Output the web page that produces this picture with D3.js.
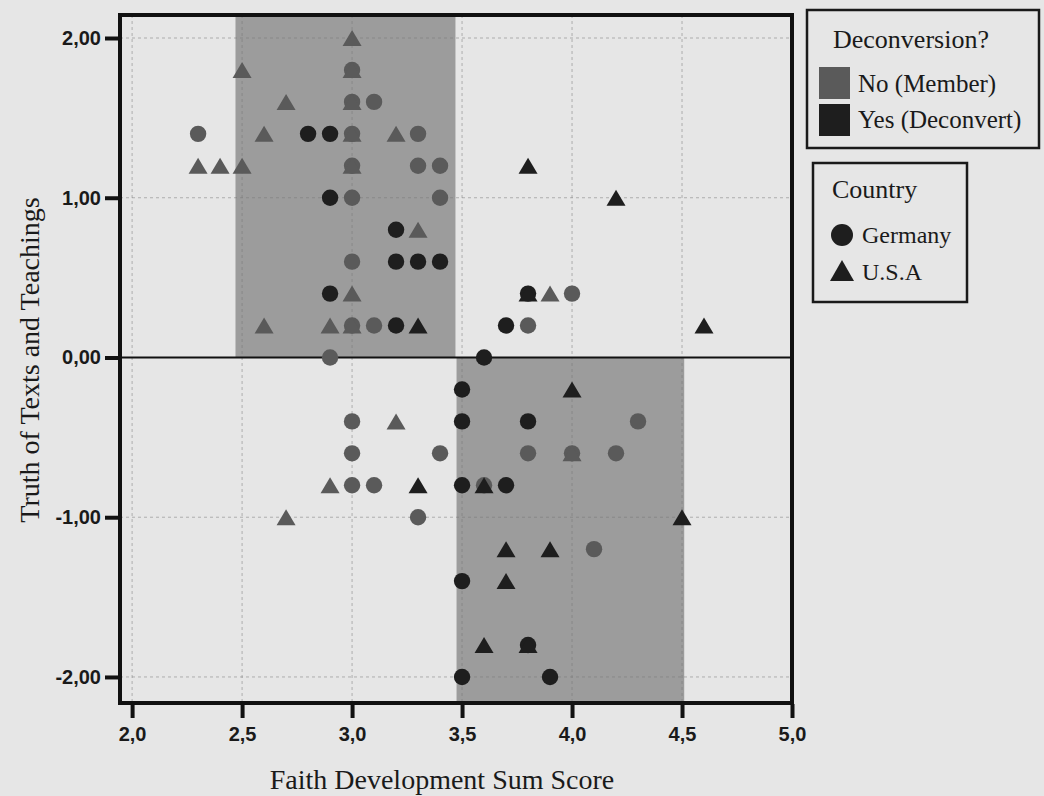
<!DOCTYPE html>
<html>
<head>
<meta charset="utf-8">
<script src="https://cdn.jsdelivr.net/npm/d3@7"></script>
<style>
  body { margin: 0; background: #e6e6e6; }
</style>
</head>
<body>
<div id="chart"></div>
<script>
// points: [faith development sum score, truth of texts and teachings]
const germanyMember = [
  [3.0, 1.8], [3.0, 1.6], [3.1, 1.6], [2.3, 1.4], [3.0, 1.4], [3.3, 1.4],
  [3.0, 1.2], [3.3, 1.2], [3.4, 1.2], [3.0, 1.0], [3.4, 1.0], [3.0, 0.6],
  [3.0, 0.2], [3.1, 0.2], [2.9, 0.0], [4.0, 0.4], [3.8, 0.2], [3.0, -0.4],
  [4.3, -0.4], [3.0, -0.6], [3.4, -0.6], [3.8, -0.6], [4.0, -0.6], [4.2, -0.6],
  [3.0, -0.8], [3.1, -0.8], [3.6, -0.8], [3.3, -1.0], [4.1, -1.2]
];
const germanyDeconvert = [
  [2.8, 1.4], [2.9, 1.4], [2.9, 1.0], [3.2, 0.8], [3.2, 0.6], [3.3, 0.6],
  [3.4, 0.6], [2.9, 0.4], [3.2, 0.2], [3.8, 0.4], [3.7, 0.2], [3.6, 0.0],
  [3.5, -0.2], [3.5, -0.4], [3.8, -0.4], [3.5, -0.8], [3.7, -0.8], [3.5, -1.4],
  [3.8, -1.8], [3.5, -2.0], [3.9, -2.0]
];
const usaMember = [
  [3.0, 2.0], [2.5, 1.8], [3.0, 1.8], [2.7, 1.6], [3.0, 1.6], [2.6, 1.4],
  [3.0, 1.4], [3.2, 1.4], [2.3, 1.2], [2.4, 1.2], [2.5, 1.2], [3.0, 1.2],
  [3.3, 0.8], [3.0, 0.4], [2.6, 0.2], [2.9, 0.2], [3.0, 0.2], [3.9, 0.4],
  [3.2, -0.4], [4.0, -0.6], [2.9, -0.8], [2.7, -1.0]
];
const usaDeconvert = [
  [3.8, 1.2], [4.2, 1.0], [3.3, 0.2], [3.8, 0.4], [4.6, 0.2], [4.0, -0.2],
  [3.3, -0.8], [3.6, -0.8], [4.5, -1.0], [3.7, -1.2], [3.9, -1.2], [3.7, -1.4],
  [3.6, -1.8], [3.8, -1.8]
];

// shaded bands: [x from, x to, y from, y to]
const upperBand = [2.47, 3.47, 0, 2.144];
const lowerBand = [3.475, 4.51, -2.163, 0];

const xTicks = [2.0, 2.5, 3.0, 3.5, 4.0, 4.5, 5.0];
const yTicks = [2, 1, 0, -1, -2];
const deconversionLabels = ["No (Member)", "Yes (Deconvert)"];
const countryLabels = ["Germany", "U.S.A"];

const w = 1044, h = 796;
const plotLeft = 120, plotRight = 792, plotTop = 15, plotBottom = 703;

const memberGrey = "#5a5a5a";
const deconvertGrey = "#1e1e1e";
const bandGrey = "#9c9c9c";

const svg = d3.select("#chart").append("svg")
  .attr("width", w)
  .attr("height", h);

svg.append("rect")
  .attr("width", w).attr("height", h)
  .attr("fill", "#e6e6e6");

const x = d3.scaleLinear().domain([1.945, 5.0]).range([plotLeft, plotRight]);
const y = d3.scaleLinear().domain([-2.163, 2.144]).range([plotBottom, plotTop]);

const locale = d3.formatLocale({ decimal: ",", thousands: ".", grouping: [3], currency: ["", ""], minus: "-" });

///////////// bands /////////////
svg.selectAll("rect.band")
  .data([upperBand, lowerBand])
  .enter().append("rect")
  .attr("class", "band")
  .attr("x", d => x(d[0]))
  .attr("width", d => x(d[1]) - x(d[0]))
  .attr("y", d => y(d[3]))
  .attr("height", d => y(d[2]) - y(d[3]))
  .attr("fill", bandGrey);

///////////// grid /////////////
svg.append("g").selectAll("line")
  .data(xTicks)
  .enter().append("line")
  .attr("x1", d => x(d)).attr("x2", d => x(d))
  .attr("y1", plotTop).attr("y2", plotBottom)
  .attr("stroke", "#777").attr("stroke-width", 1)
  .attr("stroke-dasharray", "3,3").attr("opacity", 0.5);

svg.append("g").selectAll("line")
  .data(yTicks.filter(d => d !== 0))
  .enter().append("line")
  .attr("x1", plotLeft).attr("x2", plotRight)
  .attr("y1", d => y(d)).attr("y2", d => y(d))
  .attr("stroke", "#777").attr("stroke-width", 1)
  .attr("stroke-dasharray", "3,3").attr("opacity", 0.5);

// reference line at zero
svg.append("line")
  .attr("x1", plotLeft).attr("x2", plotRight)
  .attr("y1", y(0)).attr("y2", y(0))
  .attr("stroke", "#111").attr("stroke-width", 2);

///////////// points /////////////
const triangle = "M0,-8L9.5,8L-9.5,8Z";

function circles(data, colour) {
  svg.append("g").selectAll("circle")
    .data(data)
    .enter().append("circle")
    .attr("cx", d => x(d[0]))
    .attr("cy", d => y(d[1]))
    .attr("r", 8.2)
    .attr("fill", colour);
}
function triangles(data, colour) {
  svg.append("g").selectAll("path")
    .data(data)
    .enter().append("path")
    .attr("d", triangle)
    .attr("transform", d => "translate(" + x(d[0]) + "," + y(d[1]) + ")")
    .attr("fill", colour);
}
circles(germanyMember, memberGrey);
circles(germanyDeconvert, deconvertGrey);
triangles(usaMember, memberGrey);
triangles(usaDeconvert, deconvertGrey);

///////////// frame + axes /////////////
svg.append("rect")
  .attr("x", plotLeft).attr("y", plotTop)
  .attr("width", plotRight - plotLeft).attr("height", plotBottom - plotTop)
  .attr("fill", "none").attr("stroke", "#111").attr("stroke-width", 4);

const yAxis = d3.axisLeft(y)
  .tickValues(yTicks)
  .tickSize(14)
  .tickPadding(4)
  .tickFormat(locale.format(".2f"));

const xAxis = d3.axisBottom(x)
  .tickValues(xTicks)
  .tickSize(14)
  .tickPadding(9)
  .tickFormat(locale.format(".1f"));

const gy = svg.append("g")
  .attr("transform", "translate(" + (plotLeft - 1) + ",0)")
  .call(yAxis);
const gx = svg.append("g")
  .attr("transform", "translate(0," + (plotBottom + 1) + ")")
  .call(xAxis);

[gx, gy].forEach(function(g) {
  g.select(".domain").remove();
  g.selectAll(".tick line").attr("stroke", "#111").attr("stroke-width", 4);
  g.selectAll(".tick text")
    .attr("fill", "#1a1a1a")
    .attr("font-family", "Liberation Sans, Arial, sans-serif")
    .attr("font-weight", "bold")
    .attr("font-size", "20px");
});

// axis titles
const serif = "Liberation Serif, Times New Roman, serif";

svg.append("text")
  .attr("x", 442)
  .attr("y", 789)
  .attr("text-anchor", "middle")
  .attr("font-family", serif)
  .attr("font-size", "28px")
  .attr("fill", "#1a1a1a")
  .text("Faith Development Sum Score");

svg.append("text")
  .attr("transform", "translate(39,360) rotate(-90)")
  .attr("text-anchor", "middle")
  .attr("font-family", serif)
  .attr("font-size", "28px")
  .attr("fill", "#1a1a1a")
  .text("Truth of Texts and Teachings");

///////////// legends /////////////
const lg1 = svg.append("g");
lg1.append("rect")
  .attr("x", 807).attr("y", 10).attr("width", 232).attr("height", 138)
  .attr("fill", "none").attr("stroke", "#1a1a1a").attr("stroke-width", 2.5);
lg1.append("text")
  .attr("x", 833).attr("y", 48)
  .attr("font-family", serif).attr("font-size", "26px").attr("fill", "#1a1a1a")
  .text("Deconversion?");
lg1.selectAll("g.item")
  .data(deconversionLabels)
  .enter().append("g")
  .attr("class", "item")
  .each(function(d, i) {
    const g = d3.select(this);
    g.append("rect")
      .attr("x", 819).attr("y", 67 + i * 37)
      .attr("width", 31).attr("height", 32)
      .attr("fill", i === 0 ? memberGrey : deconvertGrey);
    g.append("text")
      .attr("x", 858).attr("y", 92 + i * 36)
      .attr("font-family", serif).attr("font-size", "25px").attr("fill", "#1a1a1a")
      .text(d);
  });

const lg2 = svg.append("g");
lg2.append("rect")
  .attr("x", 813).attr("y", 163).attr("width", 154).attr("height", 139)
  .attr("fill", "none").attr("stroke", "#1a1a1a").attr("stroke-width", 2.5);
lg2.append("text")
  .attr("x", 832).attr("y", 198)
  .attr("font-family", serif).attr("font-size", "26px").attr("fill", "#1a1a1a")
  .text("Country");
lg2.append("circle")
  .attr("cx", 842).attr("cy", 235).attr("r", 11)
  .attr("fill", deconvertGrey);
lg2.append("path")
  .attr("d", "M0,-11L12,10L-12,10Z")
  .attr("transform", "translate(842,271)")
  .attr("fill", deconvertGrey);
lg2.selectAll("text.item")
  .data(countryLabels)
  .enter().append("text")
  .attr("class", "item")
  .attr("x", 862).attr("y", (d, i) => 243 + i * 37)
  .attr("font-family", serif).attr("font-size", "24px").attr("fill", "#1a1a1a")
  .text(d => d);
</script>
</body>
</html>
